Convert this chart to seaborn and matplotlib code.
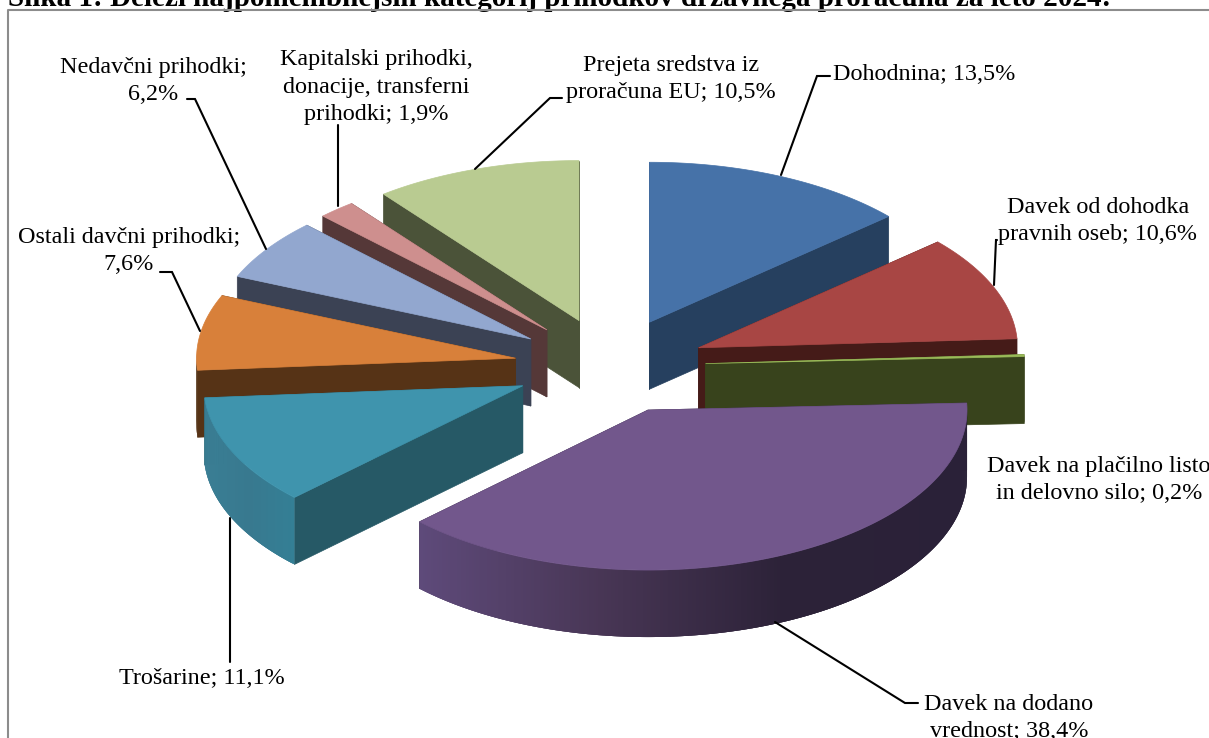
import numpy as np
import matplotlib.pyplot as plt
import seaborn as sns
from matplotlib.colors import LinearSegmentedColormap
from matplotlib.patches import Polygon

# Shares in percent, clockwise from twelve o'clock
categories = ['Dohodnina', 'Davek od dohodka\npravnih oseb', 'Davek na plačilno listo\nin delovno silo',
              'Davek na dodano\nvrednost', 'Trošarine', 'Ostali davčni prihodki', 'Nedavčni prihodki',
              'Kapitalski prihodki,\ndonacije, transferni\nprihodki', 'Prejeta sredstva iz\nproračuna EU']
shares = [13.5, 10.6, 0.2, 38.4, 11.1, 7.6, 6.2, 1.9, 10.5]
share_labels = ['13,5%', '10,6%', '0,2%', '38,4%', '11,1%', '7,6%', '6,2%', '1,9%', '10,5%']
separators = ['; ', '; ', '; ', '; ', '; ', ';\n', ';\n', '; ', '; ']
title = 'Slika 1: Deleži najpomembnejših kategorij prihodkov državnega proračuna za leto 2024:'

top_colors = ['#4672A8', '#A84644', '#9BBB59', '#72578C', '#3F94AD', '#D8803A', '#92A7CF', '#CE8F8E', '#B9CB91']
side_colors = ['#26405F', '#451B18', '#38431C', '#2E2439', '#265966', '#563316', '#3B4254', '#553838', '#4B5339']
curve_colors = {3: ['#5E4A7A', '#483655', '#2C2238', '#2A2138'], 4: ['#3A7E94', '#38798F', '#347F95']}

# layout in image pixels
cx, cy, rx, ry = 610, 366, 319, 160
explode, depth = 0.3, 67
draw_order = [8, 7, 6, 5, 4, 0, 1, 2, 3]

# label text position and alignment
label_pos = {
    0: (833, 75, 'left'), 1: (1098, 221, 'center'), 2: (1099, 480, 'center'),
    3: (1009, 718, 'center'), 4: (202, 679, 'center'), 5: (129, 251, 'center'),
    6: (153, 81, 'center'), 7: (376, 87, 'center'), 8: (671, 79, 'center'),
}
# leader lines: label end, elbow, point on the slice
leaders = {
    0: [(830, 76), (817, 76), (781, 175)], 1: [(997, 240), (996, 240), (994, 285)],
    3: [(918, 703), (905, 703), (775, 622)], 4: [(230, 662), (230, 662), (230, 518)],
    5: [(160, 272), (172, 272), (200, 331)], 6: [(187, 99), (195, 99), (266, 249)],
    7: [(338, 125), (338, 125), (338, 206)], 8: [(562, 98), (550, 98), (475, 169)],
}

sns.set_theme(style='white')
plt.rcParams['font.family'] = ['Liberation Serif', 'DejaVu Serif']

fig, ax = plt.subplots(figsize=(12.09, 7.38), dpi=100)
ax.set_position([0, 0, 1, 1])
ax.set_xlim(0, 1209)
ax.set_ylim(738, 0)
ax.axis('off')

ax.plot([8, 8, 1209], [738, 10, 10], color='#8c8c8c', lw=1.5, zorder=1)
ax.text(8, 6, title, fontsize=21, fontweight='bold', va='baseline', ha='left', color='black', zorder=0)

edges = np.concatenate([[0], np.cumsum(shares)]) / 100 * 2 * np.pi
z = 2
for i in draw_order:
    a0, a1 = edges[i], edges[i + 1]
    mid = (a0 + a1) / 2
    x0 = cx + explode * rx * np.sin(mid)
    y0 = cy - explode * ry * np.cos(mid)
    t = np.linspace(a0, a1, max(int(np.degrees(a1 - a0) * 4), 3))
    arc_x = x0 + rx * np.sin(t)
    arc_y = y0 - ry * np.cos(t)

    # radial side walls
    for k in (0, -1):
        quad = [(x0, y0), (arc_x[k], arc_y[k]), (arc_x[k], arc_y[k] + depth), (x0, y0 + depth)]
        ax.add_patch(Polygon(quad, closed=True, fc=side_colors[i], ec=side_colors[i], lw=0.5, zorder=z))
    z += 1

    # outer curved wall, only the part facing the viewer; strips overlap to hide seams
    cmap = LinearSegmentedColormap.from_list('wall', curve_colors.get(i, [side_colors[i]] * 2))
    for j in range(len(t) - 1):
        if np.cos((t[j] + t[j + 1]) / 2) > 0.02:
            continue
        n = min(j + 3, len(t) - 1)
        strip = [(arc_x[j], arc_y[j]), (arc_x[n], arc_y[n]),
                 (arc_x[n], arc_y[n] + depth), (arc_x[j], arc_y[j] + depth)]
        pos = (arc_x[j] - arc_x.min()) / max(arc_x.max() - arc_x.min(), 1)
        ax.add_patch(Polygon(strip, closed=True, fc=cmap(pos), ec='none', zorder=z + j * 1e-4))
    z += 1

    # top face
    top = np.column_stack([np.r_[x0, arc_x], np.r_[y0, arc_y]])
    ax.add_patch(Polygon(top, closed=True, fc=top_colors[i], ec=top_colors[i], lw=0.5, zorder=z))
    z += 1

z += 1
for i, pts in leaders.items():
    xs, ys = zip(*pts)
    ax.plot(xs, ys, color='black', lw=1.5, zorder=z, solid_joinstyle='miter')

for i, (x, y, ha) in label_pos.items():
    ax.text(x, y, categories[i] + separators[i] + share_labels[i], fontsize=17.4, ha=ha, va='center',
            color='black', linespacing=1.4, multialignment='center', zorder=z)

fig.savefig('out.png', dpi=100)
